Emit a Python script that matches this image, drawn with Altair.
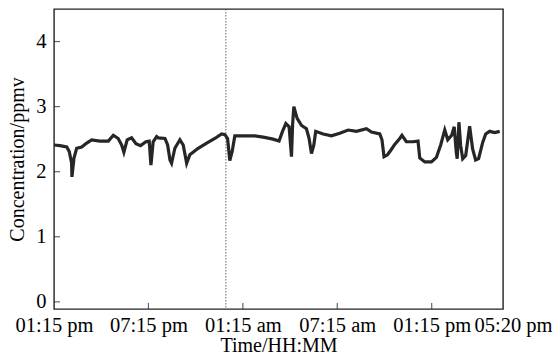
import altair as alt
import pandas as pd

# Time in hours after 01:15 pm, concentration in ppmv
hours = [0, 0.38, 0.81, 0.97, 1.12, 1.14, 1.27, 1.44, 1.76, 2.08, 2.39, 2.92, 3.45, 3.77, 4.08,
         4.30, 4.44, 4.65, 4.93, 5.21, 5.50, 5.84, 6.05, 6.16, 6.30, 6.52, 6.62, 7.05, 7.22, 7.37,
         7.47, 7.68, 8.00, 8.21, 8.43, 8.63, 9.16, 9.70, 10.22, 10.65, 10.86, 11.03, 11.17, 11.32,
         11.49, 12.13, 12.76, 13.29, 13.92, 14.30, 14.52, 14.73, 14.94, 15.09, 15.16, 15.24, 15.45,
         15.73, 16.04, 16.21, 16.36, 16.51, 16.63, 17.10, 17.63, 18.16, 18.69, 19.22, 19.85, 20.17,
         20.70, 20.84, 20.97, 21.19, 21.40, 21.65, 21.97, 22.11, 22.39, 22.81, 23.13, 23.24, 23.56,
         23.98, 24.30, 24.57, 24.83, 25.02, 25.27, 25.43, 25.56, 25.62, 25.73, 25.84, 25.97, 26.16,
         26.41, 26.60, 26.79, 26.98, 27.24, 27.43, 27.68, 28.00, 28.32]
conc = [2.41, 2.40, 2.38, 2.31, 2.13, 1.92, 2.21, 2.36, 2.38, 2.44, 2.49, 2.47, 2.47, 2.56, 2.51,
        2.41, 2.30, 2.49, 2.52, 2.43, 2.40, 2.46, 2.47, 2.10, 2.46, 2.54, 2.52, 2.51, 2.41, 2.18,
        2.13, 2.36, 2.49, 2.41, 2.13, 2.26, 2.36, 2.44, 2.51, 2.58, 2.57, 2.51, 2.17, 2.31,
        2.55, 2.55, 2.55, 2.53, 2.50, 2.47, 2.62, 2.74, 2.69, 2.23, 2.72, 3.00, 2.82,
        2.71, 2.66, 2.51, 2.28, 2.41, 2.62, 2.58, 2.55, 2.59, 2.64, 2.62, 2.66, 2.61,
        2.58, 2.49, 2.23, 2.26, 2.33, 2.42, 2.51, 2.56, 2.46, 2.46, 2.47, 2.21, 2.15,
        2.15, 2.22, 2.41, 2.64, 2.49, 2.56, 2.69, 2.30, 2.20, 2.76, 2.40, 2.20, 2.25,
        2.70, 2.35, 2.18, 2.20, 2.45, 2.58, 2.62, 2.60, 2.62]

x_tick_values = [0, 6, 12, 18, 24, 28.53]
x_tick_labels = ["01:15 pm", "07:15 pm", "01:15 am", "07:15 am", "01:15 pm", "05:20 pm"]
inner_x_ticks = [6, 12, 18, 24]
y_tick_values = [0, 1, 2, 3, 4]
marker_hour = [10.92]

X_MAX = 28.53
FONT = "Liberation Serif"
INK = "#222222"

df = pd.DataFrame({"h": hours, "c": conc})

label_expr = "''"
for v, lab in reversed(list(zip(x_tick_values, x_tick_labels))):
    label_expr = f"abs(datum.value - {v}) < 0.01 ? '{lab}' : ({label_expr})"

xscale = alt.Scale(domain=[0, X_MAX], nice=False, zero=False)
yscale = alt.Scale(domain=[-0.11, 4.5], nice=False, zero=False)

x_axis = alt.Axis(values=x_tick_values, labelExpr=label_expr, ticks=False, domain=False,
                  grid=False, labelOverlap=False, labelBound=False, labelFlush=False,
                  labelFont=FONT, labelFontSize=20.5, labelColor="black", labelPadding=6,
                  labelOffset={"condition": {"test": "datum.value > 28", "value": 10}, "value": 0},
                  titleFont=FONT, titleFontSize=20, titleFontWeight="normal",
                  titleColor="black", titlePadding=0)
y_axis = alt.Axis(values=y_tick_values, ticks=False, domain=False, grid=False,
                  labelFont=FONT, labelFontSize=20.5, labelColor="black", labelPadding=8,
                  titleFont=FONT, titleFontSize=20, titleFontWeight="normal",
                  titleColor="black", titlePadding=8)

line = alt.Chart(df).mark_line(color="#262626", strokeWidth=3.2).encode(
    x=alt.X("h:Q", scale=xscale, title="Time/HH:MM", axis=x_axis),
    y=alt.Y("c:Q", scale=yscale, title="Concentration/ppmv", axis=y_axis),
)

rule = alt.Chart(pd.DataFrame({"h": marker_hour})).mark_rule(
    color="#555555", strokeWidth=0.9, strokeDash=[1.5, 1.5]
).encode(x=alt.X("h:Q", scale=xscale, title="Time/HH:MM", axis=x_axis))

yticks = alt.Chart(pd.DataFrame({"c": y_tick_values})).mark_tick(
    orient="horizontal", size=6, thickness=1.2, color=INK
).encode(y=alt.Y("c:Q", scale=yscale, title="Concentration/ppmv", axis=y_axis), x=alt.value(3))

xticks = alt.Chart(pd.DataFrame({"h": inner_x_ticks})).mark_tick(
    orient="vertical", size=6, thickness=1.2, color=INK
).encode(x=alt.X("h:Q", scale=xscale, title="Time/HH:MM", axis=x_axis), y=alt.value(297))

chart = alt.layer(rule, line, yticks, xticks).properties(
    width=449, height=300,
    autosize=alt.AutoSizeParams(type="none"),
    padding={"left": 54, "top": 9, "right": 53, "bottom": 49},
    background="white",
).configure_view(stroke=INK, strokeWidth=1.4)

chart.save("out.html", embed_options={"renderer": "svg", "actions": False})
